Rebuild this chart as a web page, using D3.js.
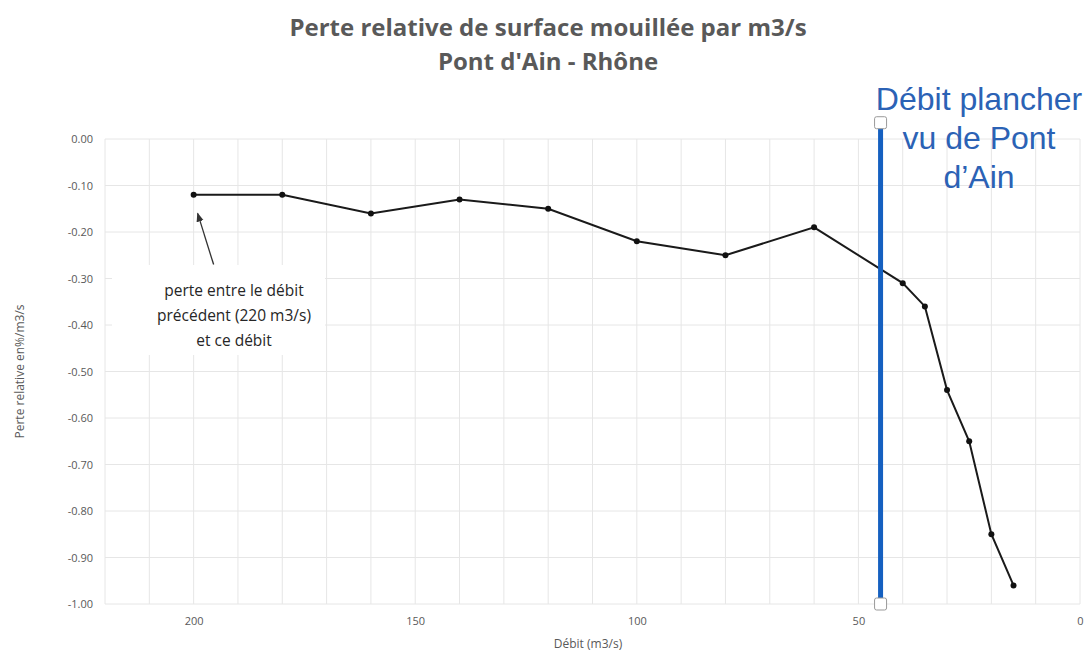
<!DOCTYPE html>
<html>
  <head>
    <meta charset="utf-8">
    <title>Perte relative de surface mouillée par m3/s</title>
    <script src="https://d3js.org/d3.v7.min.js"></script>
    <style>
      body { margin: 0; background: #fff; }
    </style>
  </head>
  <body>
    <div id="chart"></div>
    <script>
      // données
      const debits = [200, 180, 160, 140, 120, 100, 80, 60, 40, 35, 30, 25, 20, 15];
      const pertes = [-0.12, -0.12, -0.16, -0.13, -0.15, -0.22, -0.25, -0.19, -0.31, -0.36, -0.54, -0.65, -0.85, -0.96];
      const xTicks = [200, 150, 100, 50, 0];
      const yTicks = [0, -0.1, -0.2, -0.3, -0.4, -0.5, -0.6, -0.7, -0.8, -0.9, -1.0];
      const debitPlancher = 45;
      const annotationLines = ["perte entre le débit", "précédent (220 m3/s)", "et ce débit"];
      const plancherLines = ["Débit plancher", "vu de Pont", "d\u2019Ain"];

      const width = 1089, height = 655;
      const margin = {top: 139, right: 9, bottom: 51, left: 105};

      const svg = d3.select("#chart")
                    .append("svg")
                    .attr("width", width)
                    .attr("height", height);

      const xScale = d3.scaleLinear()
                       .domain([220, 0])
                       .range([margin.left, width - margin.right]);
      const yScale = d3.scaleLinear()
                       .domain([0, -1])
                       .range([margin.top, height - margin.bottom]);

      const grey = "#595959";

      // grille
      svg.append("g")
         .selectAll("line")
         .data(d3.range(0, 221, 10))
         .join("line")
         .attr("x1", d => xScale(d)).attr("x2", d => xScale(d))
         .attr("y1", yScale(0)).attr("y2", yScale(-1))
         .attr("stroke", "#e6e6e6");
      svg.append("g")
         .selectAll("line")
         .data(yTicks)
         .join("line")
         .attr("x1", xScale(220)).attr("x2", xScale(0))
         .attr("y1", d => yScale(d)).attr("y2", d => yScale(d))
         .attr("stroke", "#e6e6e6");

      // axes
      const xAxis = svg.append("g")
                       .attr("transform", `translate(0, ${yScale(-1)})`)
                       .call(d3.axisBottom(xScale).tickValues(xTicks).tickSize(0).tickPadding(13));
      const yAxis = svg.append("g")
                       .attr("transform", `translate(${xScale(220)}, 0)`)
                       .call(d3.axisLeft(yScale).tickValues(yTicks).tickSize(0).tickPadding(12)
                               .tickFormat(d => d3.format(".2f")(d).replace("\u2212", "-")));
      [xAxis, yAxis].forEach(a => {
        a.select(".domain").remove();
        a.selectAll("text")
         .attr("fill", grey)
         .attr("font-family", "Open Sans, sans-serif")
         .attr("font-size", 11);
      });

      // titres
      const title = svg.append("text")
                       .attr("text-anchor", "middle")
                       .attr("font-family", "Open Sans, sans-serif")
                       .attr("font-weight", "bold")
                       .attr("font-size", 24)
                       .attr("fill", grey);
      title.append("tspan").attr("x", 548).attr("y", 36).text("Perte relative de surface mouillée par m3/s");
      title.append("tspan").attr("x", 548).attr("y", 70).text("Pont d'Ain - Rhône");

      svg.append("text")
         .attr("x", 588).attr("y", 648)
         .attr("text-anchor", "middle")
         .attr("font-family", "Open Sans, sans-serif")
         .attr("font-size", 12)
         .attr("fill", grey)
         .text("Débit (m3/s)");
      svg.append("text")
         .attr("transform", `translate(24, ${yScale(-0.5)}) rotate(-90)`)
         .attr("text-anchor", "middle")
         .attr("font-family", "Open Sans, sans-serif")
         .attr("font-size", 12)
         .attr("fill", grey)
         .text("Perte relative en%/m3/s");

      // courbe
      const data = debits.map((d, i) => ({debit: d, perte: pertes[i]}));
      const line = d3.line().x(d => xScale(d.debit)).y(d => yScale(d.perte));
      svg.append("path")
         .datum(data)
         .attr("d", line)
         .attr("fill", "none")
         .attr("stroke", "#1a1a1a")
         .attr("stroke-width", 2);
      svg.selectAll("circle.pt")
         .data(data)
         .join("circle")
         .attr("class", "pt")
         .attr("cx", d => xScale(d.debit))
         .attr("cy", d => yScale(d.perte))
         .attr("r", 3)
         .attr("fill", "#111");

      // annotation
      svg.append("rect")
         .attr("x", 112).attr("y", 265)
         .attr("width", 213).attr("height", 90)
         .attr("fill", "#fff");
      const note = svg.append("text")
                      .attr("text-anchor", "middle")
                      .attr("font-family", "Open Sans, sans-serif")
                      .attr("font-size", 15.5)
                      .attr("fill", "#262626");
      annotationLines.forEach((t, i) => {
        note.append("tspan").attr("x", 234).attr("y", 296 + i * 25).text(t);
      });
      svg.append("defs").append("marker")
         .attr("id", "arrow")
         .attr("viewBox", "0 0 10 10")
         .attr("refX", 9).attr("refY", 5)
         .attr("markerWidth", 7).attr("markerHeight", 7)
         .attr("orient", "auto")
         .append("path")
         .attr("d", "M0,1 L10,5 L0,9 z")
         .attr("fill", "#333");
      svg.append("line")
         .attr("x1", xScale(200) + 20).attr("y1", yScale(-0.27))
         .attr("x2", xScale(200) + 4).attr("y2", yScale(-0.16))
         .attr("stroke", "#333")
         .attr("stroke-width", 1.3)
         .attr("marker-end", "url(#arrow)");

      // débit plancher
      const plancherX = xScale(debitPlancher);
      svg.append("line")
         .attr("x1", plancherX).attr("x2", plancherX)
         .attr("y1", yScale(0.035)).attr("y2", yScale(-1))
         .attr("stroke", "#1560c0")
         .attr("stroke-width", 5);
      [yScale(0.035), yScale(-1)].forEach(y => {
        svg.append("rect")
           .attr("x", plancherX - 6).attr("y", y - 6)
           .attr("width", 12).attr("height", 12)
           .attr("rx", 2)
           .attr("fill", "#fff")
           .attr("stroke", "#999")
           .attr("stroke-width", 1);
      });
      const plancher = svg.append("text")
                          .attr("text-anchor", "middle")
                          .attr("font-family", "Liberation Sans, Arial, sans-serif")
                          .attr("font-size", 32)
                          .attr("fill", "#2b62b5");
      plancherLines.forEach((t, i) => {
        plancher.append("tspan").attr("x", 979).attr("y", 110 + i * 39).text(t);
      });
    </script>
  </body>
</html>
